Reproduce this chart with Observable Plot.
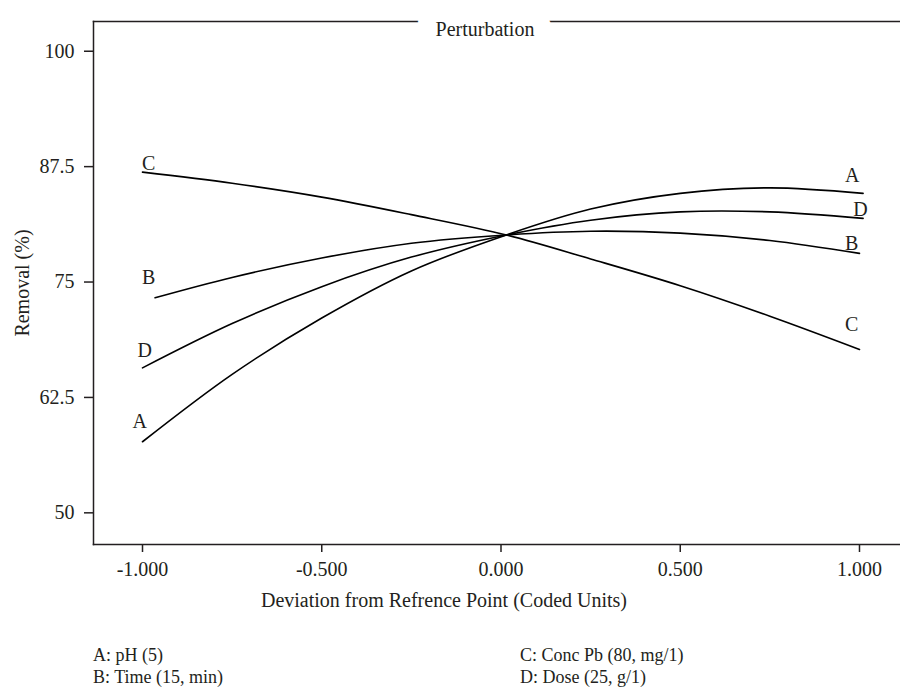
<!DOCTYPE html>
<html>
<head>
<meta charset="utf-8">
<script src="https://cdn.jsdelivr.net/npm/d3@7"></script>
<script src="https://cdn.jsdelivr.net/npm/@observablehq/plot@0.6"></script>
<style>
  body { margin: 0; background: #fff; font-family: "Liberation Serif", "DejaVu Serif", serif; color: #231f20; }
  #wrap { width: 900px; height: 688px; position: relative; overflow: hidden; }
  #legend { position: absolute; left: 93px; top: 645px; font-size: 18px; line-height: 20px; }
  #legend .col { position: absolute; white-space: nowrap; }
</style>
</head>
<body>
<div id="wrap">
  <div id="chart"></div>
  <div id="legend"></div>
</div>
<script>
// Series (coded deviation vs removal %)
const A_x = [-1, -0.75, -0.5, -0.25, 0.015, 0.25, 0.5, 0.75, 1.01];
const A_y = [57.7, 65.0, 71.1, 76.2, 80.1, 82.9, 84.6, 85.2, 84.6];
const B_x = [-0.965, -0.75, -0.5, -0.25, 0.015, 0.25, 0.5, 0.75, 1.0];
const B_y = [73.3, 75.5, 77.6, 79.2, 80.1, 80.5, 80.3, 79.5, 78.1];
const C_x = [-1, -0.75, -0.5, -0.25, 0.015, 0.25, 0.5, 0.75, 1.0];
const C_y = [86.9, 85.7, 84.2, 82.3, 80.1, 77.5, 74.6, 71.3, 67.7];
const D_x = [-1, -0.75, -0.5, -0.25, 0.015, 0.25, 0.5, 0.75, 1.01];
const D_y = [65.7, 70.5, 74.5, 77.7, 80.1, 81.7, 82.6, 82.6, 81.9];

// Curve labels
const label_text = ["C", "B", "D", "A", "A", "D", "B", "C"];
const label_x = [-0.983, -0.983, -0.994, -1.008, 0.98, 1.003, 0.978, 0.978];
const label_y = [87.8, 75.5, 67.6, 59.9, 86.5, 82.85, 79.2, 70.4];

// Axis ticks
const x_ticks = [-1, -0.5, 0, 0.5, 1];
const y_ticks = [50, 62.5, 75, 87.5, 100];

const legend_items = ["A: pH (5)", "B: Time (15, min)", "C: Conc Pb (80, mg/1)", "D: Dose (25, g/1)"];

const series = [["A", A_x, A_y], ["B", B_x, B_y], ["C", C_x, C_y], ["D", D_x, D_y]];
const data = series.flatMap(([s, xs, ys]) => xs.map((x, i) => ({series: s, x, y: ys[i]})));
const labels = label_text.map((t, i) => ({t, x: label_x[i], y: label_y[i]}));

const ink = "#231f20";
const plot = Plot.plot({
  width: 900,
  height: 625,
  marginTop: 21,
  marginBottom: 81,
  marginLeft: 93,
  marginRight: 0,
  style: {fontFamily: "'Liberation Serif', 'DejaVu Serif', serif", fontSize: "20px", color: ink, background: "white"},
  x: {domain: [-1.1367, 1.1144]},
  y: {domain: [46.57, 103.22]},
  marks: [
    Plot.frame({anchor: "left", stroke: ink, strokeWidth: 1.5}),
    Plot.frame({anchor: "bottom", stroke: ink, strokeWidth: 1.5}),
    Plot.frame({anchor: "top", stroke: ink, strokeWidth: 1.5}),
    Plot.axisY({ticks: y_ticks, tickFormat: d => String(d), tickSize: 9, tickPadding: 10, label: "Removal (%)", labelArrow: "none", labelAnchor: "center", labelOffset: 79, fontSize: 20, strokeWidth: 1.5}),
    Plot.axisX({ticks: x_ticks, tickFormat: d => d.toFixed(3), tickSize: 8, tickPadding: 9, label: null, fontSize: 20, strokeWidth: 1.5}),
    Plot.line(data, {x: "x", y: "y", z: "series", curve: "catmull-rom", stroke: "black", strokeWidth: 1.6}),
    Plot.text(labels, {x: "x", y: "y", text: "t", fontSize: 20, fill: ink}),
    Plot.text(["Perturbation"], {frameAnchor: "top", dx: -12, text: d => d, fontSize: 20, fill: ink, stroke: "white", strokeWidth: 36, strokeLinejoin: "round"}),
    Plot.text(["Deviation from Refrence Point (Coded Units)"], {frameAnchor: "bottom", dx: -53, dy: 62, text: d => d, fontSize: 20, fill: ink})
  ]
});
document.getElementById("chart").appendChild(plot);

const leg = document.getElementById("legend");
const pos = [[0, 0], [0, 22], [427, 0], [427, 22]];
legend_items.forEach((t, i) => {
  const d = document.createElement("div");
  d.className = "col";
  d.style.left = pos[i][0] + "px";
  d.style.top = pos[i][1] + "px";
  d.textContent = t;
  leg.appendChild(d);
});
</script>
</body>
</html>
